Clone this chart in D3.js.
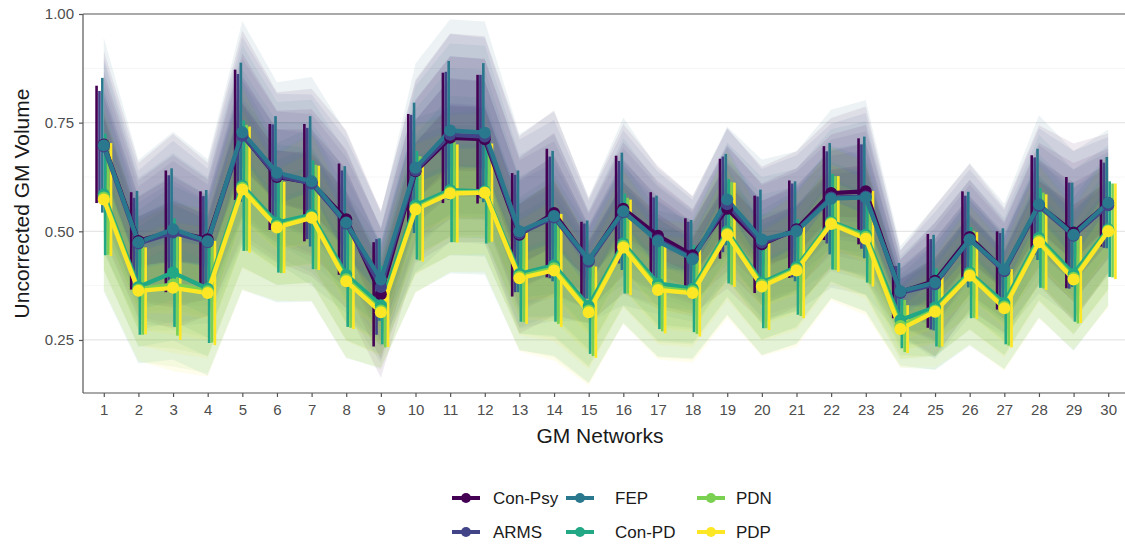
<!DOCTYPE html>
<html>
<head>
<meta charset="utf-8">
<script src="https://cdn.jsdelivr.net/npm/d3@7"></script>
<style>
  body { margin: 0; background: #fff; }
  text { font-family: "Liberation Sans", Arial, sans-serif; }
</style>
</head>
<body>
<div id="chart"></div>
<script>
// data
var networks = [1, 2, 3, 4, 5, 6, 7, 8, 9, 10, 11, 12, 13, 14, 15, 16, 17, 18, 19, 20, 21, 22, 23, 24, 25, 26, 27, 28, 29, 30];
var groups = ["Con-Psy", "ARMS", "FEP", "Con-PD", "PDN", "PDP"];
var yTicks = [0.25, 0.50, 0.75, 1.00];

var meanConPsy = [0.700, 0.478, 0.500, 0.482, 0.722, 0.625, 0.612, 0.528, 0.355, 0.638, 0.715, 0.712, 0.492, 0.542, 0.432, 0.552, 0.490, 0.445, 0.552, 0.470, 0.505, 0.588, 0.592, 0.360, 0.386, 0.487, 0.410, 0.560, 0.497, 0.565];
var meanARMS   = [0.695, 0.472, 0.497, 0.475, 0.720, 0.628, 0.610, 0.518, 0.372, 0.640, 0.722, 0.718, 0.495, 0.532, 0.430, 0.544, 0.480, 0.438, 0.562, 0.474, 0.502, 0.578, 0.580, 0.358, 0.378, 0.482, 0.408, 0.558, 0.490, 0.560];
var meanFEP    = [0.698, 0.475, 0.505, 0.477, 0.728, 0.635, 0.615, 0.520, 0.389, 0.646, 0.732, 0.727, 0.500, 0.535, 0.435, 0.546, 0.477, 0.436, 0.573, 0.481, 0.500, 0.575, 0.578, 0.362, 0.382, 0.481, 0.412, 0.562, 0.492, 0.566];
var meanConPD  = [0.585, 0.372, 0.405, 0.368, 0.605, 0.520, 0.538, 0.400, 0.330, 0.560, 0.595, 0.592, 0.402, 0.422, 0.328, 0.472, 0.380, 0.368, 0.500, 0.382, 0.418, 0.522, 0.492, 0.296, 0.325, 0.405, 0.335, 0.485, 0.402, 0.505];
var meanPDN    = [0.578, 0.366, 0.378, 0.362, 0.600, 0.512, 0.533, 0.390, 0.318, 0.553, 0.590, 0.590, 0.396, 0.415, 0.318, 0.467, 0.370, 0.362, 0.495, 0.377, 0.413, 0.519, 0.487, 0.282, 0.318, 0.401, 0.327, 0.479, 0.393, 0.502];
var meanPDP    = [0.573, 0.363, 0.370, 0.358, 0.596, 0.509, 0.531, 0.385, 0.314, 0.550, 0.587, 0.589, 0.392, 0.410, 0.314, 0.463, 0.365, 0.358, 0.492, 0.373, 0.410, 0.517, 0.483, 0.275, 0.315, 0.398, 0.323, 0.475, 0.389, 0.500];

var sdConPsy = [0.135, 0.112, 0.140, 0.110, 0.150, 0.122, 0.135, 0.128, 0.120, 0.132, 0.150, 0.148, 0.142, 0.148, 0.090, 0.122, 0.100, 0.085, 0.115, 0.112, 0.112, 0.108, 0.122, 0.060, 0.108, 0.105, 0.090, 0.115, 0.128, 0.100];
var sdARMS   = [0.128, 0.105, 0.132, 0.106, 0.142, 0.118, 0.128, 0.122, 0.110, 0.128, 0.145, 0.142, 0.135, 0.140, 0.088, 0.118, 0.098, 0.084, 0.110, 0.106, 0.108, 0.106, 0.120, 0.062, 0.104, 0.100, 0.088, 0.112, 0.122, 0.098];
var sdFEP    = [0.155, 0.118, 0.140, 0.118, 0.160, 0.130, 0.150, 0.130, 0.095, 0.150, 0.160, 0.160, 0.140, 0.150, 0.090, 0.135, 0.105, 0.090, 0.105, 0.115, 0.115, 0.128, 0.140, 0.065, 0.110, 0.110, 0.095, 0.128, 0.120, 0.105];
var sdConPD  = [0.140, 0.110, 0.125, 0.125, 0.150, 0.115, 0.125, 0.120, 0.090, 0.125, 0.120, 0.120, 0.110, 0.130, 0.110, 0.115, 0.105, 0.100, 0.120, 0.105, 0.110, 0.110, 0.110, 0.065, 0.090, 0.105, 0.095, 0.115, 0.110, 0.110];
var sdPDN    = [0.132, 0.104, 0.118, 0.118, 0.145, 0.108, 0.120, 0.112, 0.085, 0.120, 0.115, 0.116, 0.105, 0.128, 0.105, 0.110, 0.100, 0.098, 0.118, 0.100, 0.108, 0.108, 0.108, 0.060, 0.085, 0.100, 0.090, 0.110, 0.105, 0.108];
var sdPDP    = [0.130, 0.100, 0.120, 0.120, 0.145, 0.105, 0.120, 0.110, 0.080, 0.120, 0.113, 0.113, 0.105, 0.130, 0.105, 0.110, 0.100, 0.100, 0.120, 0.100, 0.110, 0.110, 0.110, 0.055, 0.080, 0.100, 0.090, 0.110, 0.100, 0.110];

var groupMeans = [meanConPsy, meanARMS, meanFEP, meanConPD, meanPDN, meanPDP];
var groupSds = [sdConPsy, sdARMS, sdFEP, sdConPD, sdPDN, sdPDP];
var colors = ["#440154", "#414487", "#2A788E", "#22A884", "#7AD151", "#FDE725"];

// build rows per group
var series = groups.map(function(g, i) {
    return {
        name: g,
        idx: i,
        color: colors[i],
        values: networks.map(function(n, j) {
            return {net: n, mean: groupMeans[i][j], sd: groupSds[i][j]};
        })
    };
});

// set margins
var svgWidth = 1125;
var svgHeight = 546;
var margin = {top: 14, right: -4, bottom: 153, left: 83};
var width = svgWidth - margin.left - margin.right;
var height = svgHeight - margin.top - margin.bottom;

var svg = d3.select("#chart")
    .append("svg")
    .attr("width", svgWidth)
    .attr("height", svgHeight)
    .style("background", "#fff");

var chartGroup = svg.append("g")
    .attr("transform", `translate(${margin.left}, ${margin.top})`);

// scales
var x = d3.scalePoint().domain(networks).range([0, width]).padding(0.6);
var y = d3.scaleLinear().domain([0.128, 1.0]).range([height, 0]);
var dodge = x.step() * 0.5 / groups.length;
function offset(i) { return (i - (groups.length - 1) / 2) * dodge; }

// gridlines
chartGroup.selectAll(".minor")
    .data([0.375, 0.625, 0.875])
    .enter().append("line")
    .attr("x1", 0).attr("x2", width)
    .attr("y1", d => y(d)).attr("y2", d => y(d))
    .attr("stroke", "#f2f2f2").attr("stroke-width", 0.7);

chartGroup.selectAll(".major")
    .data(yTicks.slice(0, 3))
    .enter().append("line")
    .attr("x1", 0).attr("x2", width)
    .attr("y1", d => y(d)).attr("y2", d => y(d))
    .attr("stroke", "#e6e6e6").attr("stroke-width", 1.2);

// subject haze drawn as layered ribbons around each group mean
var spread = [1.6, 1.25, 0.9, 0.5];
var hazeGroup = chartGroup.append("g");
spread.forEach(function(k) {
    var area = d3.area()
        .x(d => x(d.net))
        .y0(d => y(d.mean - k * d.sd))
        .y1(d => y(d.mean + k * d.sd));
    hazeGroup.selectAll(null)
        .data(series)
        .enter().append("path")
        .attr("d", d => area(d.values))
        .attr("fill", d => d.color)
        .attr("fill-opacity", 0.085);
});

// error bars (mean +/- sd), dodged
series.forEach(function(s) {
    chartGroup.append("g")
        .selectAll("line")
        .data(s.values)
        .enter().append("line")
        .attr("x1", d => x(d.net) + offset(s.idx))
        .attr("x2", d => x(d.net) + offset(s.idx))
        .attr("y1", d => y(d.mean - d.sd))
        .attr("y2", d => y(d.mean + d.sd))
        .attr("stroke", s.color)
        .attr("stroke-width", 2.6);
});

// mean lines
var meanLine = d3.line().x(d => x(d.net)).y(d => y(d.mean));
chartGroup.selectAll(".meanline")
    .data(series)
    .enter().append("path")
    .attr("d", d => meanLine(d.values))
    .attr("fill", "none")
    .attr("stroke", d => d.color)
    .attr("stroke-width", 4.3)
    .attr("stroke-linejoin", "round");

// mean points
series.forEach(function(s) {
    chartGroup.append("g")
        .selectAll("circle")
        .data(s.values)
        .enter().append("circle")
        .attr("cx", d => x(d.net))
        .attr("cy", d => y(d.mean))
        .attr("r", 6)
        .attr("fill", s.color);
});

// axes
var xAxis = d3.axisBottom(x).tickSize(4).tickPadding(7).tickSizeOuter(0);
var yAxis = d3.axisLeft(y).tickValues(yTicks).tickFormat(d3.format(".2f")).tickSize(4).tickPadding(5).tickSizeOuter(0);

var gx = chartGroup.append("g")
    .attr("transform", `translate(0, ${height})`)
    .call(xAxis);
var gy = chartGroup.append("g").call(yAxis);

[gx, gy].forEach(function(g) {
    g.select(".domain").attr("stroke", "#555").attr("stroke-width", 1.2);
    g.selectAll(".tick line").attr("stroke", "#555").attr("stroke-width", 1.2);
    g.selectAll(".tick text")
        .attr("fill", "#4d4d4d")
        .style("font-size", "15px")
        .style("font-family", "Liberation Sans, Arial, sans-serif");
});
gx.select(".domain").attr("d", `M0,0H${width}`);
gy.select(".domain").attr("d", `M0,${height}V0`);

// top border line at 1.00
chartGroup.append("line")
    .attr("x1", 0).attr("x2", width)
    .attr("y1", y(1)).attr("y2", y(1))
    .attr("stroke", "#555").attr("stroke-width", 1.2);

// axis titles
chartGroup.append("text")
    .attr("x", width / 2 - 6)
    .attr("y", height + 50)
    .attr("text-anchor", "middle")
    .style("font-size", "21px")
    .attr("fill", "#1a1a1a")
    .text("GM Networks");

chartGroup.append("text")
    .attr("transform", "rotate(-90)")
    .attr("x", -height / 2)
    .attr("y", -margin.left + 29)
    .attr("text-anchor", "middle")
    .style("font-size", "21px")
    .attr("fill", "#1a1a1a")
    .text("Uncorrected GM Volume");

// legend
var legendCols = [466, 580, 711];
var legendText = [493, 615, 736];
var legendRows = [498, 532];
var legend = svg.append("g");
series.forEach(function(s) {
    var col = Math.floor(s.idx / 2), row = s.idx % 2;
    var cx = legendCols[col], cy = legendRows[row];
    legend.append("line")
        .attr("x1", cx - 14).attr("x2", cx + 14)
        .attr("y1", cy).attr("y2", cy)
        .attr("stroke", s.color).attr("stroke-width", 4);
    legend.append("circle")
        .attr("cx", cx).attr("cy", cy).attr("r", 5)
        .attr("fill", s.color);
    legend.append("text")
        .attr("x", legendText[col])
        .attr("y", cy)
        .attr("dy", "0.36em")
        .style("font-size", "17px")
        .attr("fill", "#1a1a1a")
        .text(s.name);
});
</script>
</body>
</html>
